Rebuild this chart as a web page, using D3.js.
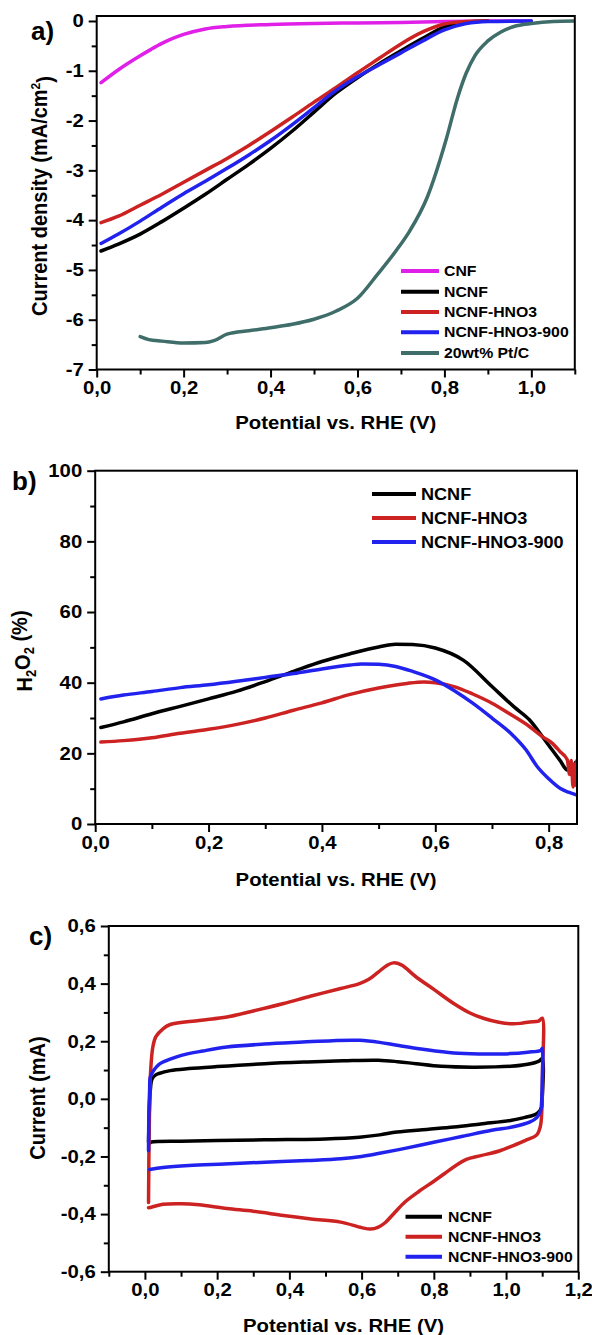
<!DOCTYPE html>
<html><head><meta charset="utf-8">
<script src="https://cdn.jsdelivr.net/npm/d3@7"></script>
<style>html,body{margin:0;padding:0;background:#fff}svg{display:block}</style>
</head><body>
<svg id="chart" width="592" height="1335"></svg>
<script>
// ---------- Panel a data (LSV) ----------
const aSeries = ["CNF", "NCNF", "NCNF-HNO3", "NCNF-HNO3-900", "20wt% Pt/C"];
const aColors = ["#e020e8", "#000000", "#cc2222", "#2222ee", "#3f6e6a"];
const aCNF = [[0.01,-1.24],[0.05,-0.98],[0.1,-0.70],[0.125,-0.57],[0.15,-0.45],[0.175,-0.35],[0.2,-0.27],[0.25,-0.16],[0.3,-0.11],[0.4,-0.07],[0.5,-0.05],[0.6,-0.04],[0.7,-0.03],[0.8,-0.01],[0.9,0],[1.0,0]];
const aNCNF = [[0.01,-4.62],[0.05,-4.48],[0.1,-4.28],[0.15,-4.03],[0.2,-3.76],[0.25,-3.48],[0.3,-3.18],[0.35,-2.88],[0.4,-2.56],[0.45,-2.21],[0.5,-1.83],[0.55,-1.45],[0.6,-1.14],[0.65,-0.86],[0.7,-0.60],[0.75,-0.35],[0.8,-0.12],[0.85,-0.02],[0.9,0]];
const aHNO3 = [[0.01,-4.05],[0.05,-3.92],[0.1,-3.70],[0.15,-3.48],[0.2,-3.24],[0.25,-3.00],[0.3,-2.76],[0.35,-2.50],[0.4,-2.22],[0.45,-1.93],[0.5,-1.63],[0.55,-1.34],[0.6,-1.04],[0.65,-0.75],[0.7,-0.46],[0.75,-0.22],[0.8,-0.06],[0.85,-0.01],[0.9,0]];
const aHNO3900 = [[0.01,-4.47],[0.05,-4.28],[0.1,-4.02],[0.15,-3.74],[0.2,-3.47],[0.25,-3.22],[0.3,-2.96],[0.35,-2.69],[0.4,-2.40],[0.45,-2.08],[0.5,-1.74],[0.55,-1.40],[0.6,-1.12],[0.65,-0.88],[0.7,-0.64],[0.75,-0.40],[0.8,-0.18],[0.85,-0.05],[0.9,-0.01],[1.0,0]];
const aPtC = [[0.1,-6.34],[0.12,-6.40],[0.15,-6.43],[0.2,-6.47],[0.25,-6.46],[0.27,-6.42],[0.3,-6.29],[0.35,-6.22],[0.4,-6.16],[0.45,-6.09],[0.5,-5.99],[0.55,-5.83],[0.6,-5.57],[0.647,-5.08],[0.69,-4.60],[0.72,-4.22],[0.76,-3.55],[0.804,-2.38],[0.83,-1.55],[0.85,-1.05],[0.87,-0.70],[0.9,-0.40],[0.93,-0.22],[0.96,-0.11],[1.0,-0.05],[1.05,-0.01],[1.1,0]];
const aXTicks = [0,0.2,0.4,0.6,0.8,1.0];
const aXLabels = ["0,0","0,2","0,4","0,6","0,8","1,0"];
const aXMinor = [0.1,0.3,0.5,0.7,0.9,1.1];
const aYTicks = [0,-1,-2,-3,-4,-5,-6,-7];
const aYLabels = ["0","-1","-2","-3","-4","-5","-6","-7"];
const aYMinor = [-0.5,-1.5,-2.5,-3.5,-4.5,-5.5,-6.5];

// ---------- Panel b data (H2O2 %) ----------
const bSeries = ["NCNF", "NCNF-HNO3", "NCNF-HNO3-900"];
const bColors = ["#000000", "#cc2222", "#2222ee"];
const bNCNF = [[0.01,27.3],[0.05,28.9],[0.1,31.2],[0.15,33.3],[0.2,35.4],[0.25,37.6],[0.3,40.3],[0.35,43.2],[0.4,46.0],[0.45,48.2],[0.5,50.1],[0.53,50.9],[0.56,50.8],[0.6,49.8],[0.65,46.3],[0.7,38.9],[0.74,33.0],[0.766,29.5],[0.79,24.5],[0.806,21.0],[0.82,18.0],[0.833,15.3],[0.838,17.0],[0.843,14.0],[0.847,17.5],[0.85,15.5]];
const bHNO3 = [[0.01,23.2],[0.05,23.6],[0.1,24.4],[0.15,25.7],[0.2,26.8],[0.25,28.2],[0.3,30.0],[0.35,32.2],[0.4,34.3],[0.45,36.7],[0.5,38.5],[0.55,39.8],[0.58,40.2],[0.6,40.0],[0.633,38.9],[0.666,36.8],[0.7,34.2],[0.733,31.0],[0.766,27.6],[0.79,24.6],[0.806,22.9],[0.82,20.5],[0.833,18.1],[0.837,14.0],[0.84,18.0],[0.843,10.5],[0.846,17.0],[0.848,11.0],[0.85,18.0]];
const bHNO3900 = [[0.01,35.4],[0.05,36.5],[0.1,37.5],[0.15,38.6],[0.2,39.4],[0.25,40.4],[0.3,41.5],[0.35,42.6],[0.4,43.9],[0.45,45.0],[0.47,45.3],[0.5,45.2],[0.53,44.6],[0.56,43.2],[0.6,40.8],[0.633,37.8],[0.666,34.2],[0.7,30.0],[0.733,25.7],[0.76,21.0],[0.78,16.2],[0.8,12.8],[0.82,10.1],[0.835,9.0],[0.85,8.2]];
const bXTicks = [0,0.2,0.4,0.6,0.8];
const bXLabels = ["0,0","0,2","0,4","0,6","0,8"];
const bXMinor = [0.1,0.3,0.5,0.7];
const bYTicks = [0,20,40,60,80,100];
const bYLabels = ["0","20","40","60","80","100"];
const bYMinor = [10,30,50,70,90];

// ---------- Panel c data (CV loops) ----------
const cSeries = ["NCNF", "NCNF-HNO3", "NCNF-HNO3-900"];
const cColors = ["#000000", "#cc2222", "#2222ee"];
const cNCNF = [[0.01,-0.15],[0.012,-0.05],[0.015,0.03],[0.02,0.07],[0.03,0.083],[0.039,0.088],[0.07,0.098],[0.122,0.105],[0.2,0.112],[0.332,0.122],[0.45,0.128],[0.55,0.132],[0.646,0.134],[0.7,0.129],[0.751,0.122],[0.82,0.113],[0.908,0.11],[1.012,0.113],[1.06,0.12],[1.091,0.131],[1.1,0.14],[1.1,0.0],[1.098,-0.03],[1.086,-0.051],[1.05,-0.065],[1.012,-0.075],[0.93,-0.087],[0.855,-0.098],[0.78,-0.106],[0.698,-0.115],[0.65,-0.125],[0.594,-0.133],[0.5,-0.139],[0.332,-0.142],[0.2,-0.145],[0.1,-0.147],[0.018,-0.15],[0.015,-0.152]];
const cHNO3 = [[0.01,-0.36],[0.012,-0.1],[0.016,0.1],[0.022,0.18],[0.03,0.215],[0.05,0.243],[0.07,0.258],[0.15,0.272],[0.227,0.284],[0.3,0.305],[0.384,0.331],[0.46,0.357],[0.542,0.383],[0.594,0.40],[0.62,0.415],[0.646,0.44],[0.67,0.463],[0.688,0.472],[0.71,0.465],[0.751,0.423],[0.8,0.38],[0.855,0.331],[0.9,0.298],[0.939,0.279],[0.98,0.266],[1.012,0.261],[1.04,0.262],[1.065,0.267],[1.09,0.27],[1.1,0.28],[1.101,0.1],[1.099,-0.04],[1.095,-0.095],[1.085,-0.125],[1.054,-0.144],[1.02,-0.162],[0.981,-0.181],[0.93,-0.197],[0.89,-0.21],[0.86,-0.232],[0.83,-0.259],[0.8,-0.286],[0.76,-0.32],[0.72,-0.358],[0.69,-0.397],[0.665,-0.43],[0.645,-0.446],[0.625,-0.452],[0.6,-0.447],[0.542,-0.428],[0.46,-0.417],[0.384,-0.405],[0.3,-0.39],[0.227,-0.381],[0.15,-0.368],[0.101,-0.364],[0.05,-0.366],[0.018,-0.376],[0.01,-0.378]];
const cHNO3900 = [[0.01,-0.18],[0.011,-0.05],[0.013,0.03],[0.015,0.076],[0.025,0.1],[0.039,0.12],[0.07,0.138],[0.101,0.151],[0.16,0.166],[0.227,0.18],[0.33,0.19],[0.437,0.197],[0.52,0.202],[0.594,0.203],[0.65,0.196],[0.698,0.186],[0.77,0.172],[0.855,0.159],[0.93,0.156],[1.012,0.157],[1.06,0.162],[1.096,0.168],[1.1,0.175],[1.1,0.05],[1.098,-0.02],[1.096,-0.04],[1.085,-0.065],[1.065,-0.081],[1.02,-0.097],[0.96,-0.109],[0.88,-0.13],[0.803,-0.15],[0.72,-0.172],[0.646,-0.19],[0.6,-0.2],[0.542,-0.208],[0.45,-0.214],[0.332,-0.22],[0.22,-0.226],[0.122,-0.231],[0.05,-0.238],[0.013,-0.245]];
const cXTicks = [0,0.2,0.4,0.6,0.8,1.0,1.2];
const cXLabels = ["0,0","0,2","0,4","0,6","0,8","1,0","1,2"];
const cXMinor = [-0.1,0.1,0.3,0.5,0.7,0.9,1.1];
const cYTicks = [0.6,0.4,0.2,0,-0.2,-0.4,-0.6];
const cYLabels = ["0,6","0,4","0,2","0,0","-0,2","-0,4","-0,6"];
const cYMinor = [0.5,0.3,0.1,-0.1,-0.3,-0.5];

// ---------- rendering ----------
const SX = 1.13;
const FONT = "'Liberation Sans', Arial, Helvetica, sans-serif";
const svg = d3.select("#chart");

function txt(g, x, y, s, size, anchor, rot, sx) {
  const t = g.append("text")
    .attr("transform", `translate(${x},${y}) scale(${sx||SX},1)` + (rot ? ` rotate(${rot})` : ""))
    .attr("font-family", FONT).attr("font-weight", "bold").attr("font-size", size)
    .attr("text-anchor", anchor || "start").attr("fill", "#000");
  if (s != null) t.text(s);
  return t;
}

function stretchAxis(sel) {
  sel.attr("font-family", FONT).attr("font-weight", "bold").attr("font-size", 18);
  sel.selectAll("text").each(function() {
    const t = d3.select(this);
    const x = +t.attr("x") || 0, y = +t.attr("y") || 0;
    t.attr("x", null).attr("y", null).attr("fill", "#000")
     .attr("transform", `translate(${x},${y}) scale(${SX},1)`);
  });
  sel.selectAll("line").attr("stroke", "#000").attr("stroke-width", 2);
  sel.select(".domain").remove();
}

function panel(cfg) {
  const g = svg.append("g");
  const x = d3.scaleLinear().domain(cfg.xDom).range(cfg.xRange);
  const y = d3.scaleLinear().domain(cfg.yDom).range(cfg.yRange);
  const [x0, x1] = cfg.xRange, [yb, yt] = cfg.yRange;

  g.append("g").attr("transform", `translate(0,${yb})`)
    .call(d3.axisBottom(x).tickValues(cfg.xMinor).tickFormat("").tickSize(5)).call(stretchAxis);
  g.append("g").attr("transform", `translate(0,${yb})`)
    .call(d3.axisBottom(x).tickValues(cfg.xTicks).tickFormat((d, i) => cfg.xLabels[i]).tickSize(8).tickPadding(4)).call(stretchAxis);
  g.append("g").attr("transform", `translate(${x0},0)`)
    .call(d3.axisLeft(y).tickValues(cfg.yMinor).tickFormat("").tickSize(5)).call(stretchAxis);
  g.append("g").attr("transform", `translate(${x0},0)`)
    .call(d3.axisLeft(y).tickValues(cfg.yTicks).tickFormat((d, i) => cfg.yLabels[i]).tickSize(8).tickPadding(5)).call(stretchAxis);

  const clipId = "clip" + cfg.id;
  g.append("clipPath").attr("id", clipId).append("rect")
    .attr("x", x0).attr("y", yt).attr("width", x1 - x0).attr("height", yb - yt);
  const line = d3.line().x(d => x(d[0])).y(d => y(d[1])).curve(cfg.curve);
  const lines = g.append("g").attr("clip-path", `url(#${clipId})`);
  cfg.data.forEach((d, i) => {
    lines.append("path").datum(d).attr("d", line).attr("fill", "none")
      .attr("stroke", cfg.colors[i]).attr("stroke-width", cfg.lw).attr("stroke-linejoin", "round").attr("stroke-linecap", "round");
  });

  g.append("rect").attr("x", x0).attr("y", yt).attr("width", x1 - x0).attr("height", yb - yt)
    .attr("fill", "none").attr("stroke", "#000").attr("stroke-width", 2);

  // legend
  const L = cfg.legend;
  cfg.series.forEach((s, i) => {
    const yy = L.rows[i];
    g.append("line").attr("x1", L.x1).attr("x2", L.x2).attr("y1", yy).attr("y2", yy)
      .attr("stroke", cfg.colors[i]).attr("stroke-width", 4);
    txt(g, L.tx, yy, s, L.size).attr("dy", "0.36em");
  });

  // axis titles
  txt(g, (x0 + x1) / 2, cfg.xTitleY, "Potential vs. RHE (V)", 18, "middle");
  cfg.yTitle(g);
  txt(g, cfg.tag[0], cfg.tag[1], cfg.tag[2], 26, "start", 0, 1);
}

panel({
  id: "a", xDom: [0, 1.1], xRange: [96.7, 574.8], yDom: [-7, 0.1], yRange: [369.5, 16],
  xTicks: aXTicks, xLabels: aXLabels, xMinor: aXMinor, yTicks: aYTicks, yLabels: aYLabels, yMinor: aYMinor,
  series: aSeries, colors: aColors, data: [aCNF, aNCNF, aHNO3, aHNO3900, aPtC], lw: 3.5,
  curve: d3.curveMonotoneX,
  legend: { x1: 401, x2: 439, tx: 444, size: 14, rows: [271, 291.7, 312, 332.3, 353] },
  xTitleY: 429,
  yTitle: g => {
    const t = txt(g, 47, 196, null, 20, "middle", -90);
    t.append("tspan").text("Current density (mA/cm");
    t.append("tspan").attr("dy", "-0.55em").attr("font-size", 12).text("2");
    t.append("tspan").attr("dy", "0.55em").text(")");
  },
  tag: [31, 40, "a)"]
});

panel({
  id: "b", xDom: [0, 0.85], xRange: [95.2, 577], yDom: [0, 100], yRange: [824, 470.7],
  xTicks: bXTicks, xLabels: bXLabels, xMinor: bXMinor, yTicks: bYTicks, yLabels: bYLabels, yMinor: bYMinor,
  series: bSeries, colors: bColors, data: [bNCNF, bHNO3, bHNO3900], lw: 3.5,
  curve: d3.curveMonotoneX,
  legend: { x1: 372, x2: 416, tx: 421, size: 16, rows: [494, 518, 542] },
  xTitleY: 886,
  yTitle: g => {
    const t = txt(g, 32, 651, null, 20, "middle", -90);
    t.append("tspan").text("H");
    t.append("tspan").attr("dy", "0.3em").attr("font-size", 13).text("2");
    t.append("tspan").attr("dy", "-0.3em").text("O");
    t.append("tspan").attr("dy", "0.3em").attr("font-size", 13).text("2");
    t.append("tspan").attr("dy", "-0.3em").text(" (%)");
  },
  tag: [12, 490, "b)"]
});

panel({
  id: "c", xDom: [-0.1, 1.2], xRange: [108.8, 578.3], yDom: [-0.6, 0.6], yRange: [1271.7, 926],
  xTicks: cXTicks, xLabels: cXLabels, xMinor: cXMinor, yTicks: cYTicks, yLabels: cYLabels, yMinor: cYMinor,
  series: cSeries, colors: cColors, data: [cNCNF, cHNO3, cHNO3900], lw: 3.5,
  curve: d3.curveCatmullRom.alpha(0.5),
  legend: { x1: 405.5, x2: 442, tx: 448, size: 14, rows: [1216.7, 1236.7, 1256.7] },
  xTitleY: 1332,
  yTitle: g => { txt(g, 45, 1098, "Current (mA)", 20, "middle", -90); },
  tag: [29, 945, "c)"]
});
</script>
</body></html>
